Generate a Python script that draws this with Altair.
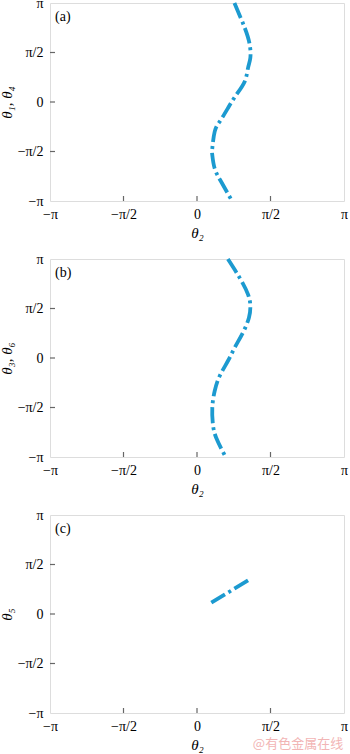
import math
import altair as alt
import pandas as pd

PI = math.pi

# Panel (a): theta2 vs theta1, theta4
a_theta2 = [0.80, 1.02, 1.126, 1.14, 1.09, 1.02, 0.84, 0.66, 0.485, 0.378, 0.327, 0.327, 0.378, 0.52, 0.733]
a_theta14 = [3.14, 2.354, 1.824, 1.40, 1.078, 0.654, 0.23, -0.197, -0.622, -0.94, -1.47, -1.685, -2.11, -2.54, -3.10]

# Panel (b): theta2 vs theta3, theta6
b_theta2 = [0.66, 0.91, 1.09, 1.14, 1.11, 0.98, 0.805, 0.66, 0.485, 0.378, 0.327, 0.34, 0.41, 0.59]
b_theta36 = [3.14, 2.55, 2.02, 1.65, 1.28, 0.803, 0.327, -0.095, -0.571, -1.047, -1.576, -2.105, -2.53, -3.08]

# Panel (c): theta2 vs theta5
c_theta2 = [0.306, 1.126]
c_theta5 = [0.358, 1.10]

tick_values = [-PI, -PI / 2, 0, PI / 2, PI]
tick_labels = ["−π", "−π/2", "0", "π/2", "π"]
inner_ticks = [-PI / 2, 0, PI / 2]
panel_tags = ["(a)", "(b)", "(c)"]
y_titles = ["θ₁, θ₄", "θ₃, θ₆", "θ₅"]
x_title = "θ₂"
watermark = "@有色金属在线"

W, H = 294, 198
COLOR = "#1c9ad0"
FRAME = "#666666"
FONT = "Liberation Serif"

label_expr = (
    "abs(datum.value + PI) < 0.01 ? '" + tick_labels[0] + "' : "
    "abs(datum.value + PI/2) < 0.01 ? '" + tick_labels[1] + "' : "
    "abs(datum.value) < 0.01 ? '" + tick_labels[2] + "' : "
    "abs(datum.value - PI/2) < 0.01 ? '" + tick_labels[3] + "' : '" + tick_labels[4] + "'"
)

xscale = alt.Scale(domain=[-PI, PI], nice=False, zero=False)
yscale = alt.Scale(domain=[-PI, PI], nice=False, zero=False)


def panel(xs, ys, tag, ytitle, extra=None):
    df = pd.DataFrame({"x": xs, "y": ys, "i": list(range(len(xs)))})
    line = alt.Chart(df).mark_line(
        color=COLOR, strokeWidth=3.8, strokeDash=[16, 4, 3, 4], interpolate="natural"
    ).encode(
        x=alt.X("x:Q", scale=xscale,
                axis=alt.Axis(values=tick_values, labelExpr=label_expr, title=x_title,
                              labelPadding=6, titlePadding=4)),
        y=alt.Y("y:Q", scale=yscale,
                axis=alt.Axis(values=tick_values, labelExpr=label_expr, title=ytitle,
                              labelPadding=7, titlePadding=3)),
        order="i:O",
    )
    tdf = pd.DataFrame({"v": inner_ticks})
    xt = alt.Chart(tdf).mark_rule(color=FRAME, strokeWidth=1.2).encode(
        x=alt.X("v:Q", scale=xscale), y=alt.value(H), y2=alt.value(H - 5)
    )
    yt = alt.Chart(tdf).mark_rule(color=FRAME, strokeWidth=1.2).encode(
        y=alt.Y("v:Q", scale=yscale), x=alt.value(0), x2=alt.value(5)
    )
    lab = alt.Chart(pd.DataFrame({"t": [tag]})).mark_text(
        font=FONT, fontSize=14, align="left", baseline="middle", color="black"
    ).encode(text="t:N", x=alt.value(5), y=alt.value(14))
    layers = [xt, yt, line, lab]
    if extra is not None:
        layers.append(extra)
    return alt.layer(*layers).properties(width=W, height=H)


wm = alt.Chart(pd.DataFrame({"t": [watermark]})).mark_text(
    font="Noto Sans CJK SC", fontSize=13, align="center", baseline="middle", color="#f2b5b5"
).encode(text="t:N", x=alt.value(248), y=alt.value(229))

pa = panel(a_theta2, a_theta14, panel_tags[0], y_titles[0])
pb = panel(b_theta2, b_theta36, panel_tags[1], y_titles[1])
pc = panel(c_theta2, c_theta5, panel_tags[2], y_titles[2], extra=wm)

chart = alt.vconcat(pa, pb, pc, spacing=58, bounds="flush").properties(
    padding={"left": -2, "top": -6, "right": 0, "bottom": 0}
).configure_view(stroke=FRAME, strokeWidth=1.3).configure(
    background="white", font=FONT
).configure_axis(
    ticks=False, domain=False, grid=False, labelFont=FONT, labelFontSize=14,
    labelColor="black", labelFlush=False, titleFont=FONT, titleFontSize=15,
    titleFontStyle="italic", titleFontWeight="normal", titleColor="black"
)

chart.save("out.html", embed_options={"renderer": "svg", "actions": False})
